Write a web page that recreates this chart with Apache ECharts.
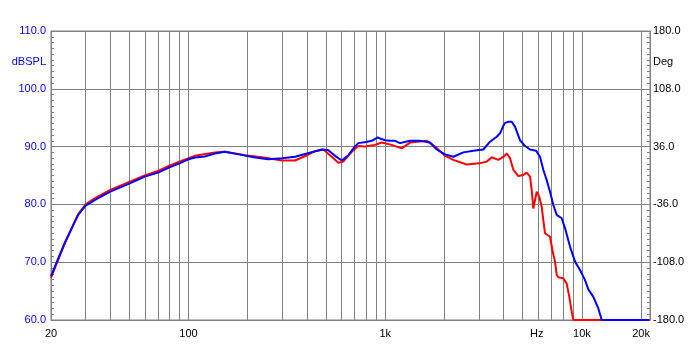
<!DOCTYPE html>
<html>
<head>
<meta charset="utf-8">
<script src="https://cdn.jsdelivr.net/npm/echarts@6/dist/echarts.min.js"></script>
<style>html,body{margin:0;padding:0;background:#fff}#c{width:700px;height:350px}</style>
</head>
<body>
<div id="c"></div>
<script>
// Frequency (Hz) and SPL (dB)
const freqBlue = [20,21.8,23.6,25.5,27.5,30,33.5,40,50,60,70,80,90,100,108,121,136,153,178,218,254,299,348,400,476,512,556,601,649,700,730,800,854,916,941,1000,1058,1122,1189,1337,1503,1691,1828,2000,2220,2496,2806,3154,3410,3690,3834,4000,4066,4228,4398,4570,4846,5138,5448,5846,6124,6364,6624,6884,7156,7446,7894,8206,8700,9226,9782,10372,10782,11430,12120,12612,22000];
const splBlue  = [67.6,70.7,73.5,75.9,78.2,79.8,80.8,82.2,83.6,84.8,85.5,86.4,87.1,87.8,88.1,88.3,88.8,89.1,88.7,88.1,87.8,88.0,88.25,88.8,89.5,89.4,88.4,87.6,88.5,90.0,90.6,90.8,91.0,91.6,91.4,91.1,91.0,91.0,90.6,91.0,91.0,90.7,89.5,88.7,88.25,89.0,89.3,89.5,90.85,91.7,92.3,93.7,94.1,94.3,94.3,93.45,91.1,90.1,89.5,89.3,88.25,86.0,84.2,82.2,79.9,78.2,77.6,75.9,72.7,70.1,68.65,66.9,65.3,64.0,62.0,60,60];
const freqRed = [20,21.8,23.6,25.5,27.5,30,33.5,40,50,60,70,80,90,100,108,136,153,194,236,299,348,400,440,485,535,578,612,676,730,790,888,960,1079,1213,1337,1626,1792,2000,2220,2597,3000,3282,3480,3758,4000,4148,4312,4480,4750,5038,5240,5448,5556,5662,5892,6076,6246,6364,6492,6884,7106,7298,7446,7586,8044,8370,8630,8876,9044,22000];
const splRed  = [67.3,70.5,73.4,75.9,78.3,80.0,81.1,82.5,83.9,85.0,85.8,86.7,87.4,88.0,88.4,89.0,89.1,88.5,88.15,87.6,87.6,88.5,89.2,89.5,88.25,87.2,87.4,89.1,90.1,90.0,90.3,90.7,90.3,89.7,90.7,91.0,90.0,88.5,87.7,86.9,87.1,87.4,88.15,87.7,88.25,88.8,88.0,86.0,84.9,85.1,85.5,84.8,82.5,79.3,82.2,81.3,79.6,77.3,75.0,74.4,71.8,70.1,67.8,67.4,67.2,66.3,64.0,61.4,60,60];

const xGridValues = [20,30,40,50,60,70,80,90,100,200,300,400,500,600,700,800,900,1000,2000,3000,4000,5000,6000,7000,8000,9000,10000,20000];
const xLabelValues = [20,100,1000,5900,10000,20000];
const xLabelTexts  = ['20','100','1k','Hz','10k','20k'];
const leftLabelValues = [60,70,80,90,100,104.7,110];
const leftUnit = 'dBSPL';
const rightLabelValues = [-180,-108,-36,36,108,141.8,180];
const rightUnit = 'Deg';

const pair = (fs, vs) => fs.map((f, i) => [f, vs[i]]);
const chart = echarts.init(document.getElementById('c'), null, {renderer: 'canvas'});
const gray = '#808080';
const font = 'Liberation Sans';
chart.setOption({
  animation: false,
  backgroundColor: '#ffffff',
  grid: {left: 51, right: 50, top: 31, bottom: 30, show: true, borderColor: gray, borderWidth: 1, backgroundColor: 'transparent'},
  xAxis: {
    type: 'log', logBase: 10, min: 20, max: 22190,
    axisLine: {show: true, onZero: false, lineStyle: {color: gray}},
    axisTick: {show: false, customValues: xGridValues},
    splitLine: {show: true, lineStyle: {color: gray, width: 1}},
    axisLabel: {
      customValues: xLabelValues, showMinLabel: true, showMaxLabel: true,
      color: '#000', fontFamily: font, fontSize: 11, margin: 8,
      formatter: v => { const i = xLabelValues.findIndex(x => Math.abs(x - v) < 1e-6 * x); return i >= 0 ? xLabelTexts[i] : ''; }
    }
  },
  yAxis: [{
    type: 'value', min: 60, max: 110, interval: 10, position: 'left',
    axisLine: {show: true, onZero: false, lineStyle: {color: gray}},
    axisTick: {show: true, inside: true, length: 3, lineStyle: {color: gray}},
    minorTick: {show: true, splitNumber: 10, length: 3, lineStyle: {color: gray}},
    splitLine: {show: true, lineStyle: {color: gray, width: 1}},
    axisLabel: {
      customValues: leftLabelValues, color: '#0000ff', fontFamily: font, fontSize: 11, margin: 5,
      formatter: v => Math.abs(v - 104.7) < 1e-6 ? leftUnit : v.toFixed(1)
    }
  }, {
    type: 'value', min: -180, max: 180, interval: 72, position: 'right',
    axisLine: {show: true, onZero: false, lineStyle: {color: gray}},
    axisTick: {show: true, inside: true, length: 3, lineStyle: {color: gray}},
    minorTick: {show: true, splitNumber: 10, length: 3, lineStyle: {color: gray}},
    splitLine: {show: false},
    axisLabel: {
      customValues: rightLabelValues, color: '#000', fontFamily: font, fontSize: 11, margin: 3,
      formatter: v => Math.abs(v - 141.8) < 1e-6 ? rightUnit : v.toFixed(1)
    }
  }],
  series: [{
    name: 'red', type: 'line', yAxisIndex: 0, data: pair(freqRed, splRed), showSymbol: false, symbol: 'none',
    lineStyle: {color: '#ff0000', width: 2}, itemStyle: {color: '#ff0000'}
  }, {
    name: 'blue', type: 'line', yAxisIndex: 0, data: pair(freqBlue, splBlue), showSymbol: false, symbol: 'none',
    lineStyle: {color: '#0000ff', width: 2}, itemStyle: {color: '#0000ff'}
  }]
});
</script>
</body>
</html>
